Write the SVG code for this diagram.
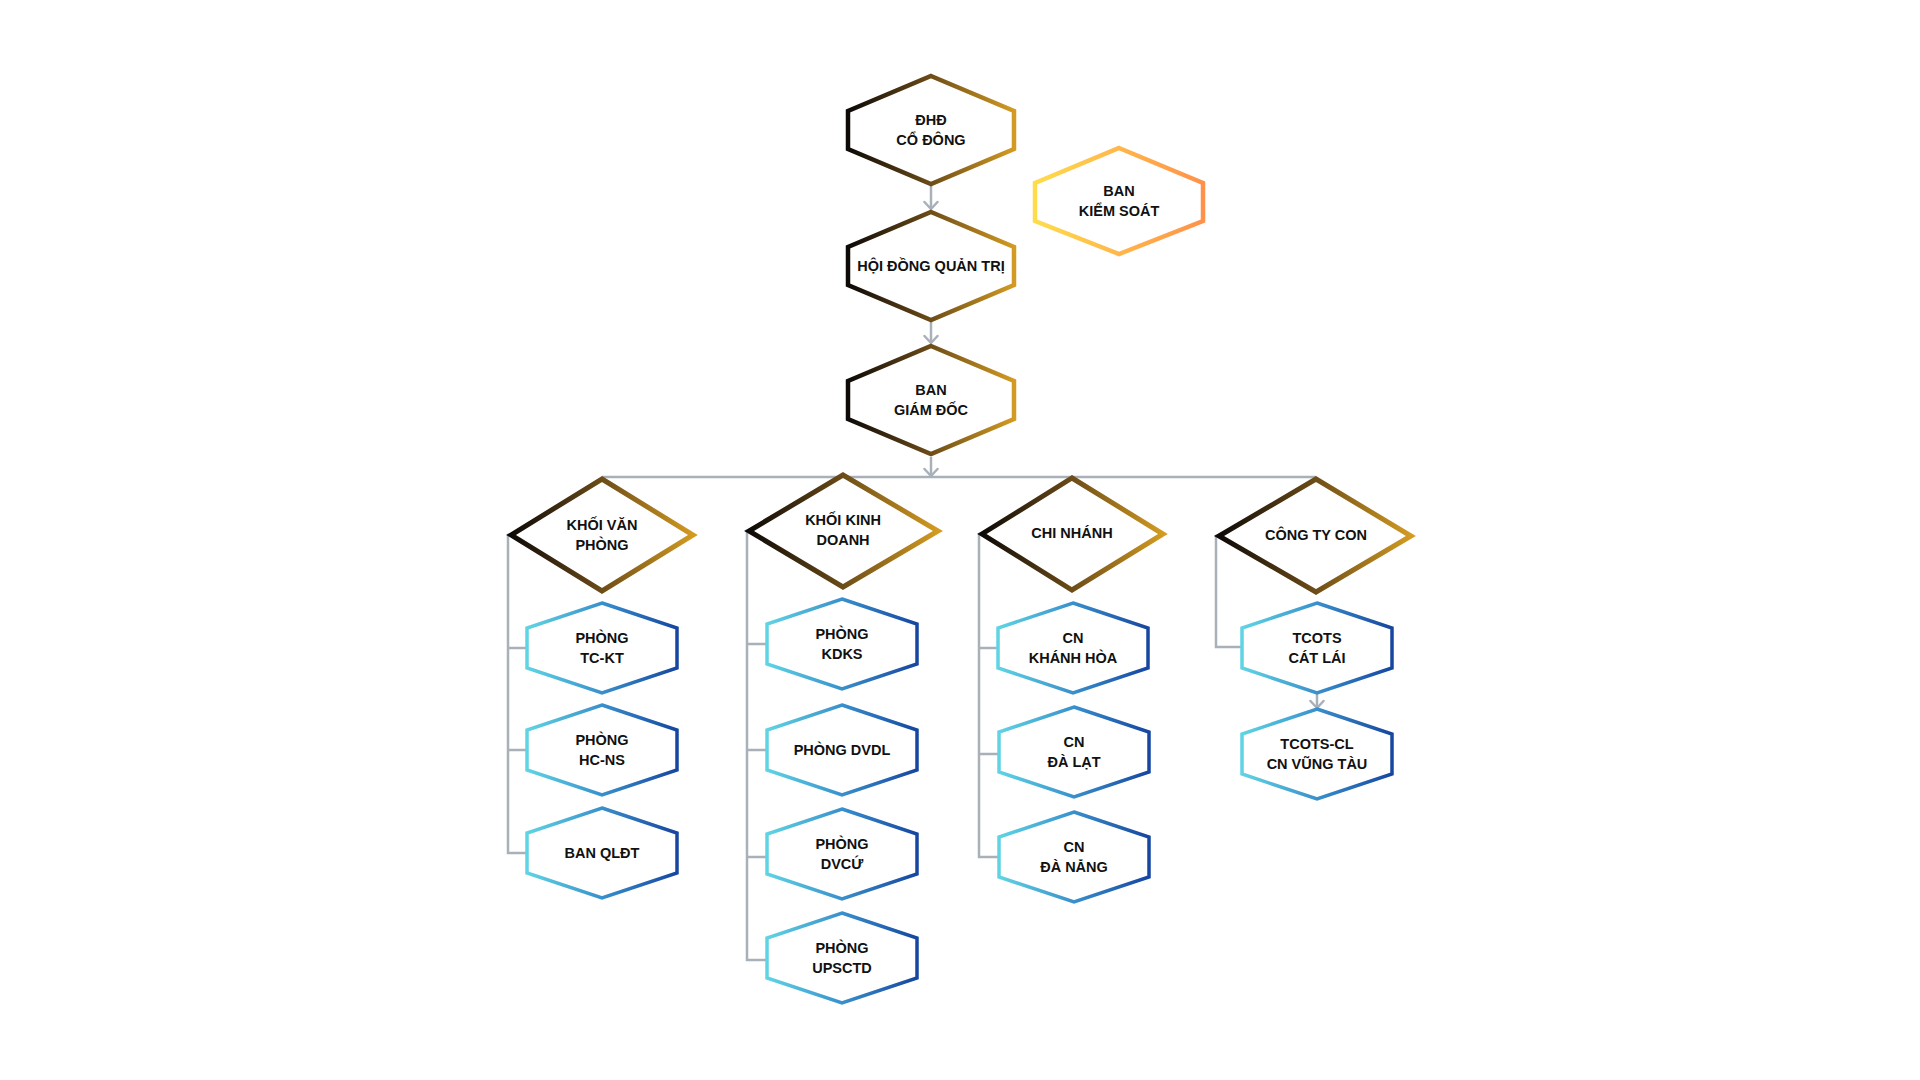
<svg xmlns="http://www.w3.org/2000/svg" width="1920" height="1080" viewBox="0 0 1920 1080">
  <defs>
    <linearGradient id="gold" x1="0" y1="0" x2="1" y2="0">
      <stop offset="0" stop-color="#0c0907"/>
      <stop offset="0.45" stop-color="#634516"/>
      <stop offset="1" stop-color="#d39b22"/>
    </linearGradient>
    <linearGradient id="blue" x1="0" y1="0" x2="1" y2="0">
      <stop offset="0" stop-color="#5fd4e4"/>
      <stop offset="0.5" stop-color="#3990cc"/>
      <stop offset="1" stop-color="#1646a0"/>
    </linearGradient>
    <linearGradient id="sun" x1="0" y1="0" x2="1" y2="0">
      <stop offset="0" stop-color="#ffdc4c"/>
      <stop offset="1" stop-color="#ff914a"/>
    </linearGradient>
    <marker id="arr" viewBox="0 0 10 16" markerWidth="10" markerHeight="16" refX="9" refY="8" orient="auto" markerUnits="userSpaceOnUse">
      <path d="M2,1.5 L9,8 L2,14.5" fill="none" stroke="#a8b1b9" stroke-width="2.5" stroke-linecap="round" stroke-linejoin="round"/>
    </marker>
    <polygon id="bighex" points="0,-54 83,-19 83,19 0,54 -83,19 -83,-19"/>
    <polygon id="hex" points="0,-45 75,-20 75,20 0,45 -75,20 -75,-20"/>
  </defs>
  <style>
    .gold{fill:#fff;stroke:url(#gold);stroke-width:4.5;stroke-linejoin:miter}
    .blue{fill:#fff;stroke:url(#blue);stroke-width:3.5;stroke-linejoin:miter}
    .sun{fill:#fff;stroke:url(#sun);stroke-width:4.5}
    .dia{fill:#fff;stroke:url(#gold);stroke-width:5;stroke-linejoin:miter}
    .conn{fill:none;stroke:#a8b1b9;stroke-width:2.5}
    text{font-family:"Liberation Sans",Arial,sans-serif;font-weight:bold;font-size:14.5px;fill:#111;text-anchor:middle}
  </style>
  <rect width="1920" height="1080" fill="#fff"/>

  <g id="connectors" class="conn">
    <path d="M931,186 V209" marker-end="url(#arr)"/>
    <path d="M931,322 V343" marker-end="url(#arr)"/>
    <path d="M931,457 V476" marker-end="url(#arr)"/>
    <path d="M602,477 H1316"/>
    <path d="M510,535 H508 V853 H527 M508,648 H527 M508,750 H527"/>
    <path d="M750,531 H747 V960 H767 M747,644 H767 M747,750 H767 M747,857 H767"/>
    <path d="M981,534 H979 V857 H998 M979,648 H998 M979,754 H998"/>
    <path d="M1218,536 H1216 V647 H1242"/>
    <path d="M1317,694 V708" marker-end="url(#arr)"/>
  </g>

  <g id="dhd-co-dong">
    <use href="#bighex" x="931" y="130" class="gold"/>
    <text x="931" y="125">ĐHĐ</text>
    <text x="931" y="145">CỔ ĐÔNG</text>
  </g>
  <g id="ban-kiem-soat">
    <polygon points="1119,148 1203,183 1203,221 1119,254 1035,221 1035,183" class="sun"/>
    <text x="1119" y="196">BAN</text>
    <text x="1119" y="216">KIỂM SOÁT</text>
  </g>
  <g id="hoi-dong-quan-tri">
    <use href="#bighex" x="931" y="266" class="gold"/>
    <text x="931" y="271">HỘI ĐỒNG QUẢN TRỊ</text>
  </g>
  <g id="ban-giam-doc">
    <use href="#bighex" x="931" y="400" class="gold"/>
    <text x="931" y="395">BAN</text>
    <text x="931" y="415">GIÁM ĐỐC</text>
  </g>

  <g id="khoi-van-phong">
    <polygon points="602,479 693,535 602,591 511,535" class="dia"/>
    <text x="602" y="530">KHỐI VĂN</text>
    <text x="602" y="550">PHÒNG</text>
  </g>
  <g id="khoi-kinh-doanh">
    <polygon points="843,475 938,531 843,587 749,531" class="dia"/>
    <text x="843" y="525">KHỐI KINH</text>
    <text x="843" y="545">DOANH</text>
  </g>
  <g id="chi-nhanh">
    <polygon points="1072,478 1163,534 1072,590 982,534" class="dia"/>
    <text x="1072" y="538">CHI NHÁNH</text>
  </g>
  <g id="cong-ty-con">
    <polygon points="1316,479 1411,536 1316,592 1219,536" class="dia"/>
    <text x="1316" y="540">CÔNG TY CON</text>
  </g>

  <g id="phong-tc-kt">
    <use href="#hex" x="602" y="648" class="blue"/>
    <text x="602" y="643">PHÒNG</text>
    <text x="602" y="663">TC-KT</text>
  </g>
  <g id="phong-hc-ns">
    <use href="#hex" x="602" y="750" class="blue"/>
    <text x="602" y="745">PHÒNG</text>
    <text x="602" y="765">HC-NS</text>
  </g>
  <g id="ban-qldt">
    <use href="#hex" x="602" y="853" class="blue"/>
    <text x="602" y="858">BAN QLĐT</text>
  </g>

  <g id="phong-kdks">
    <use href="#hex" x="842" y="644" class="blue"/>
    <text x="842" y="639">PHÒNG</text>
    <text x="842" y="659">KDKS</text>
  </g>
  <g id="phong-dvdl">
    <use href="#hex" x="842" y="750" class="blue"/>
    <text x="842" y="755">PHÒNG DVDL</text>
  </g>
  <g id="phong-dvcu">
    <use href="#hex" x="842" y="854" class="blue"/>
    <text x="842" y="849">PHÒNG</text>
    <text x="842" y="869">DVCỨ</text>
  </g>
  <g id="phong-upsctd">
    <use href="#hex" x="842" y="958" class="blue"/>
    <text x="842" y="953">PHÒNG</text>
    <text x="842" y="973">UPSCTD</text>
  </g>

  <g id="cn-khanh-hoa">
    <use href="#hex" x="1073" y="648" class="blue"/>
    <text x="1073" y="643">CN</text>
    <text x="1073" y="663">KHÁNH HÒA</text>
  </g>
  <g id="cn-da-lat">
    <use href="#hex" x="1074" y="752" class="blue"/>
    <text x="1074" y="747">CN</text>
    <text x="1074" y="767">ĐÀ LẠT</text>
  </g>
  <g id="cn-da-nang">
    <use href="#hex" x="1074" y="857" class="blue"/>
    <text x="1074" y="852">CN</text>
    <text x="1074" y="872">ĐÀ NẴNG</text>
  </g>

  <g id="tcots-cat-lai">
    <use href="#hex" x="1317" y="648" class="blue"/>
    <text x="1317" y="643">TCOTS</text>
    <text x="1317" y="663">CÁT LÁI</text>
  </g>
  <g id="tcots-cl-vung-tau">
    <use href="#hex" x="1317" y="754" class="blue"/>
    <text x="1317" y="749">TCOTS-CL</text>
    <text x="1317" y="769">CN VŨNG TÀU</text>
  </g>
</svg>
